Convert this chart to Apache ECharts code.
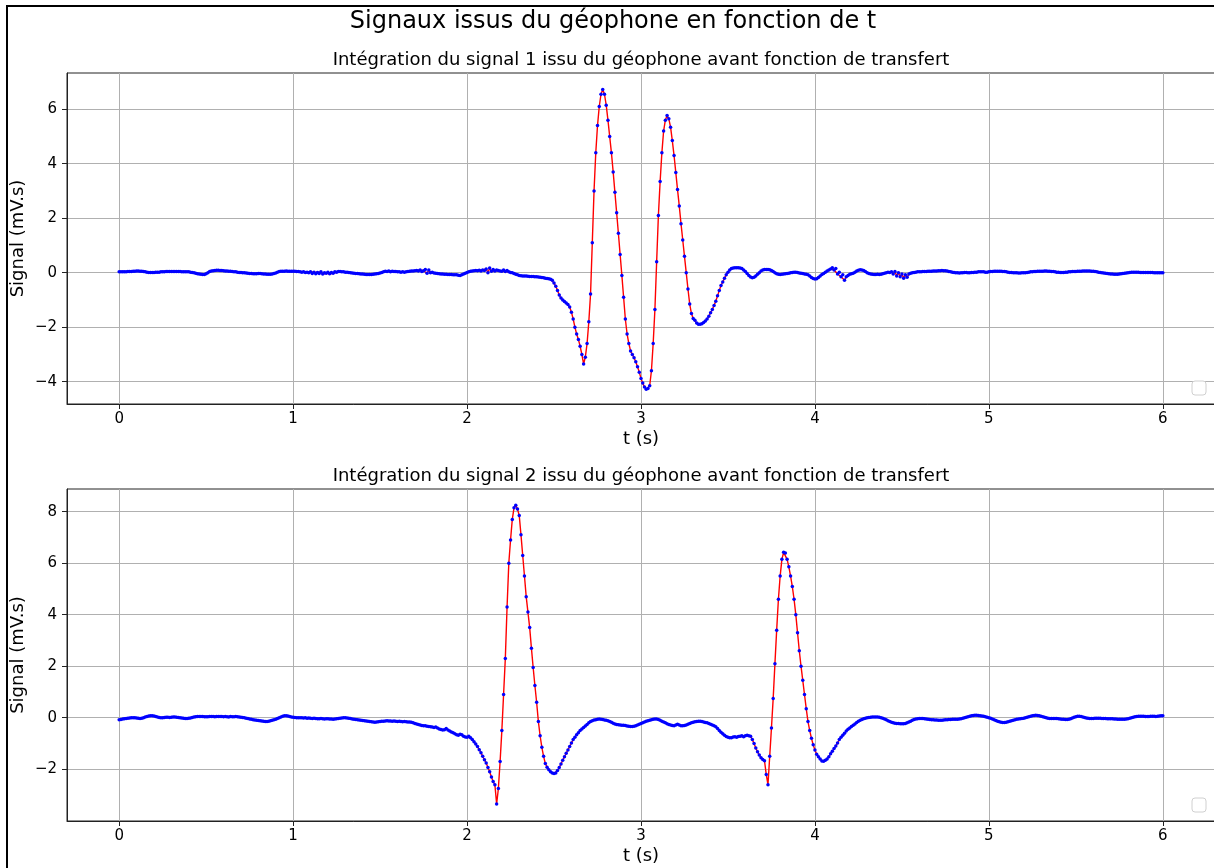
<!DOCTYPE html>
<html>
<head>
<meta charset="utf-8">
<script src="https://cdn.jsdelivr.net/npm/echarts@6/dist/echarts.min.js"></script>
<style>
html,body{margin:0;padding:0;background:#fff;}
#chart{width:1214px;height:868px;}
</style>
</head>
<body>
<div id="chart"></div>
<script>
const DT = 0.01;
const suptitle = 'Signaux issus du géophone en fonction de t';
const subtitle1 = 'Intégration du signal 1 issu du géophone avant fonction de transfert';
const subtitle2 = 'Intégration du signal 2 issu du géophone avant fonction de transfert';
const xName = 't (s)';
const yName = 'Signal (mV.s)';
const xTicks = [0, 1, 2, 3, 4, 5, 6];
const y1Ticks = [-4, -2, 0, 2, 4, 6];
const y2Ticks = [-2, 0, 2, 4, 6, 8];

const sig1 = [
0.03,0.03,0.03,0.03,0.03,0.04,0.04,0.04,0.05,0.05,
0.06,0.06,0.05,0.05,0.04,0.03,0.02,0.01,0.01,0.01,
0.01,0.02,0.02,0.02,0.03,0.03,0.03,0.04,0.04,0.04,
0.04,0.04,0.04,0.04,0.04,0.04,0.03,0.03,0.03,0.03,
0.03,0.02,0.01,0,-0.02,-0.04,-0.05,-0.06,-0.07,-0.07,
-0.04,0,0.04,0.06,0.07,0.08,0.09,0.09,0.08,0.08,
0.07,0.06,0.06,0.05,0.05,0.04,0.03,0.03,0.02,0.01,
0.01,0,0,-0.01,-0.02,-0.03,-0.03,-0.04,-0.04,-0.04,
-0.03,-0.03,-0.04,-0.05,-0.05,-0.06,-0.06,-0.06,-0.05,-0.03,
-0.01,0.02,0.04,0.05,0.05,0.05,0.06,0.05,0.05,0.05,
0.05,0.05,0.04,0.04,0.03,0.02,0.03,0.01,0.02,0,
0.03,-0.03,0.02,-0.04,0.01,-0.03,0.03,-0.05,0,-0.02,
0.02,-0.04,0.01,-0.02,0.03,0.02,0.04,0.04,0.03,0.03,
0.02,0.02,0.01,0,-0.01,-0.02,-0.03,-0.03,-0.04,-0.05,
-0.05,-0.06,-0.07,-0.07,-0.07,-0.07,-0.06,-0.05,-0.04,-0.03,
-0.01,0.01,0.03,0.05,0.04,0.06,0.03,0.05,0.04,0.04,
0.03,0.03,0.02,0.03,0.02,0.03,0.04,0.05,0.06,0.06,
0.07,0.08,0.06,0.1,0.04,0.07,0.12,-0.02,0.1,0,
0.02,-0.01,-0.02,-0.03,-0.04,-0.05,-0.05,-0.06,-0.06,-0.07,
-0.07,-0.07,-0.08,-0.08,-0.08,-0.09,-0.1,-0.08,-0.05,-0.02,
0.01,0.03,0.05,0.06,0.07,0.08,0.07,0.09,0.06,0.1,
0.08,0.14,0,0.17,0.05,0.12,0.06,0.1,0.08,0.06,
0.05,0.1,0.04,0.08,0.03,0.01,0,-0.03,-0.06,-0.08,
-0.1,-0.11,-0.12,-0.12,-0.12,-0.13,-0.14,-0.14,-0.14,-0.15,
-0.15,-0.16,-0.17,-0.18,-0.19,-0.2,-0.21,-0.22,-0.24,-0.28,
-0.38,-0.5,-0.65,-0.82,-0.93,-1.0,-1.06,-1.11,-1.17,-1.26,
-1.45,-1.7,-2.0,-2.25,-2.45,-2.7,-3.0,-3.35,-3.1,-2.6,
-1.8,-0.78,1.1,3.0,4.4,5.4,6.1,6.55,6.72,6.55,
6.15,5.6,5.0,4.4,3.7,2.95,2.2,1.45,0.67,-0.1,
-0.9,-1.7,-2.25,-2.6,-2.87,-3.0,-3.12,-3.27,-3.45,-3.65,
-3.88,-4.05,-4.2,-4.28,-4.25,-4.15,-3.6,-2.6,-1.35,0.4,
2.1,3.35,4.4,5.2,5.6,5.77,5.65,5.34,4.85,4.3,
3.68,3.05,2.45,1.8,1.2,0.6,0,-0.6,-1.15,-1.5,
-1.68,-1.75,-1.85,-1.89,-1.89,-1.87,-1.83,-1.77,-1.7,-1.6,
-1.47,-1.35,-1.2,-1.05,-0.85,-0.65,-0.47,-0.34,-0.2,-0.08,
0.02,0.1,0.15,0.17,0.18,0.18,0.18,0.17,0.15,0.1,
0.04,-0.03,-0.1,-0.16,-0.19,-0.17,-0.12,-0.06,0,0.06,
0.1,0.12,0.12,0.12,0.11,0.08,0.04,0,-0.04,-0.06,
-0.07,-0.06,-0.05,-0.04,-0.03,-0.02,0,0.01,0.02,0.02,
0.01,-0.01,-0.02,-0.03,-0.05,-0.06,-0.08,-0.12,-0.18,-0.21,
-0.23,-0.22,-0.18,-0.12,-0.07,-0.03,0.02,0.06,0.1,0.14,
0.18,0.1,0.15,-0.05,0.02,-0.15,-0.08,-0.28,-0.15,-0.1,
-0.06,-0.04,-0.02,0.02,0.06,0.09,0.11,0.1,0.08,0.04,
0,-0.03,-0.05,-0.06,-0.07,-0.07,-0.06,-0.07,-0.06,-0.04,
-0.02,0,0.02,0.01,0.03,-0.05,0.04,-0.12,0,-0.15,
-0.05,-0.2,-0.08,-0.17,-0.05,-0.02,0,0.01,0.02,0.03,
0.03,0.03,0.04,0.04,0.04,0.05,0.05,0.05,0.06,0.06,
0.06,0.07,0.07,0.08,0.07,0.07,0.06,0.04,0.03,0.02,
0.01,0,0,-0.01,0,0,0.01,0.01,0,0,
0.01,0.01,0.02,0.02,0.03,0.03,0.03,0.03,0.02,0.02,
0.03,0.04,0.04,0.05,0.05,0.05,0.05,0.05,0.04,0.04,
0.03,0.02,0.01,0.01,0,0,0,-0.01,-0.01,0,
0,0,0.01,0.02,0.03,0.03,0.04,0.04,0.05,0.05,
0.05,0.05,0.06,0.06,0.05,0.05,0.04,0.04,0.03,0.02,
0.02,0.01,0.01,0.01,0.02,0.02,0.03,0.03,0.04,0.04,
0.04,0.05,0.05,0.05,0.06,0.06,0.06,0.06,0.06,0.05,
0.05,0.04,0.03,0.02,0.01,0,-0.01,-0.02,-0.03,-0.04,
-0.05,-0.05,-0.06,-0.06,-0.06,-0.05,-0.04,-0.03,-0.02,-0.01,
0,0.01,0.02,0.02,0.02,0.02,0.02,0.01,0.01,0.01,
0.01,0.01,0.01,0.01,0.01,0,0,0,0,0,
0
];

const sig2 = [
-0.08,-0.07,-0.05,-0.04,-0.03,-0.02,-0.01,0,0,0,
-0.01,-0.02,-0.03,-0.02,0,0.03,0.05,0.07,0.08,0.08,
0.07,0.05,0.03,0.01,0,0,0.01,0.02,0.02,0.01,
0.02,0.03,0.03,0.02,0.01,0,-0.01,-0.02,-0.03,-0.03,
-0.02,-0.01,0.01,0.03,0.04,0.05,0.05,0.05,0.05,0.04,
0.04,0.04,0.05,0.05,0.05,0.04,0.05,0.05,0.05,0.05,
0.04,0.05,0.04,0.03,0.05,0.04,0.04,0.05,0.04,0.03,
0.02,0.01,0,-0.02,-0.03,-0.05,-0.06,-0.08,-0.09,-0.1,
-0.11,-0.12,-0.13,-0.14,-0.15,-0.15,-0.14,-0.12,-0.1,-0.08,
-0.06,-0.03,0,0.03,0.06,0.08,0.08,0.07,0.05,0.03,
0.02,0.01,0,0,0,0,-0.01,0,-0.02,-0.01,
-0.02,-0.03,-0.02,-0.03,-0.04,-0.04,-0.03,-0.04,-0.05,-0.04,
-0.04,-0.05,-0.05,-0.06,-0.05,-0.04,-0.03,-0.02,-0.01,0,
0,-0.01,-0.02,-0.03,-0.05,-0.06,-0.07,-0.08,-0.09,-0.1,
-0.11,-0.12,-0.13,-0.14,-0.15,-0.16,-0.17,-0.18,-0.17,-0.16,
-0.15,-0.14,-0.14,-0.13,-0.12,-0.13,-0.13,-0.14,-0.13,-0.14,
-0.15,-0.14,-0.15,-0.16,-0.15,-0.16,-0.17,-0.17,-0.18,-0.2,
-0.22,-0.24,-0.26,-0.28,-0.3,-0.31,-0.31,-0.33,-0.34,-0.35,
-0.36,-0.38,-0.36,-0.4,-0.44,-0.46,-0.48,-0.47,-0.42,-0.48,
-0.52,-0.55,-0.58,-0.62,-0.66,-0.68,-0.64,-0.66,-0.72,-0.75,
-0.76,-0.72,-0.78,-0.85,-0.93,-1.02,-1.12,-1.24,-1.36,-1.5,
-1.63,-1.76,-1.93,-2.1,-2.3,-2.48,-2.6,-3.35,-2.75,-1.7,
-0.5,0.9,2.3,4.3,6.0,6.9,7.7,8.15,8.25,8.1,
7.85,7.1,6.3,5.5,4.7,4.1,3.5,2.7,1.95,1.25,
0.6,-0.15,-0.7,-1.15,-1.5,-1.78,-1.92,-2.02,-2.1,-2.15,
-2.17,-2.15,-2.05,-1.93,-1.8,-1.65,-1.52,-1.38,-1.25,-1.12,
-0.98,-0.85,-0.76,-0.66,-0.58,-0.5,-0.44,-0.38,-0.32,-0.26,
-0.2,-0.15,-0.12,-0.09,-0.08,-0.06,-0.05,-0.06,-0.07,-0.09,
-0.1,-0.12,-0.15,-0.18,-0.21,-0.24,-0.26,-0.27,-0.28,-0.29,
-0.29,-0.3,-0.32,-0.33,-0.34,-0.34,-0.33,-0.31,-0.28,-0.25,
-0.22,-0.2,-0.17,-0.14,-0.12,-0.1,-0.08,-0.06,-0.05,-0.05,
-0.07,-0.1,-0.14,-0.17,-0.2,-0.23,-0.26,-0.28,-0.3,-0.31,
-0.28,-0.25,-0.28,-0.31,-0.31,-0.3,-0.28,-0.25,-0.22,-0.2,
-0.18,-0.16,-0.15,-0.14,-0.14,-0.15,-0.17,-0.19,-0.2,-0.22,
-0.25,-0.28,-0.31,-0.35,-0.42,-0.5,-0.56,-0.62,-0.68,-0.73,
-0.76,-0.78,-0.78,-0.75,-0.74,-0.76,-0.73,-0.72,-0.7,-0.74,
-0.7,-0.68,-0.7,-0.72,-0.85,-1.0,-1.18,-1.32,-1.45,-1.55,
-1.62,-1.67,-2.2,-2.6,-1.5,-0.4,0.75,2.1,3.4,4.6,
5.5,6.15,6.42,6.4,6.15,5.86,5.5,5.09,4.6,4.0,
3.3,2.6,2.0,1.45,0.9,0.35,-0.15,-0.5,-0.8,-1.05,
-1.25,-1.42,-1.52,-1.6,-1.68,-1.69,-1.65,-1.6,-1.52,-1.4,
-1.3,-1.2,-1.1,-0.98,-0.85,-0.76,-0.68,-0.6,-0.52,-0.45,
-0.4,-0.34,-0.29,-0.24,-0.19,-0.14,-0.1,-0.07,-0.04,-0.02,
0,0.01,0.02,0.03,0.03,0.03,0.03,0.02,0,-0.02,
-0.05,-0.08,-0.12,-0.15,-0.18,-0.2,-0.21,-0.22,-0.22,-0.23,
-0.23,-0.23,-0.22,-0.2,-0.17,-0.14,-0.1,-0.07,-0.05,-0.04,
-0.03,-0.03,-0.03,-0.04,-0.05,-0.06,-0.07,-0.08,-0.08,-0.09,
-0.09,-0.1,-0.1,-0.1,-0.09,-0.08,-0.08,-0.07,-0.07,-0.06,
-0.06,-0.06,-0.06,-0.05,-0.04,-0.02,0,0.02,0.04,0.06,
0.08,0.09,0.1,0.1,0.09,0.08,0.07,0.06,0.04,0.02,
0,-0.02,-0.05,-0.08,-0.11,-0.14,-0.16,-0.18,-0.19,-0.19,
-0.18,-0.16,-0.14,-0.12,-0.1,-0.08,-0.06,-0.05,-0.04,-0.03,
-0.02,0,0.02,0.04,0.06,0.08,0.09,0.1,0.09,0.08,
0.06,0.04,0.02,0,-0.02,-0.03,-0.03,-0.03,-0.03,-0.03,
-0.04,-0.05,-0.06,-0.06,-0.07,-0.07,-0.06,-0.04,-0.01,0.02,
0.04,0.06,0.06,0.05,0.03,0.01,-0.01,-0.02,-0.03,-0.03,
-0.03,-0.02,-0.02,-0.02,-0.02,-0.03,-0.03,-0.03,-0.04,-0.04,
-0.04,-0.04,-0.05,-0.05,-0.06,-0.06,-0.06,-0.06,-0.06,-0.05,
-0.04,-0.02,0,0.02,0.04,0.05,0.06,0.06,0.06,0.06,
0.05,0.05,0.05,0.06,0.06,0.06,0.05,0.06,0.07,0.08,
0.08
];

// ---- chart ----
const FONT = 'DejaVu Sans';
const toPairs = arr => arr.map((v, i) => [Math.round(i * DT * 100) / 100, v]);
const minus = v => String(v).replace('-', '\u2212');

const GRID_LEFT = 67, GRID_W = 1148;
const grids = [
  { left: GRID_LEFT, top: 73, width: GRID_W, height: 331 },
  { left: GRID_LEFT, top: 489, width: GRID_W, height: 332 }
];

function xAxisFor(gi) {
  return {
    type: 'value', gridIndex: gi, min: -0.3, max: 6.3,
    name: xName, nameLocation: 'middle', nameGap: 26, nameMoveOverlap: false,
    nameTextStyle: { fontFamily: FONT, fontSize: 18, color: '#000' },
    axisLine: { onZero: false, lineStyle: { color: '#222', width: 1 } },
    axisTick: { show: true, length: 5, customValues: xTicks, lineStyle: { color: '#222' } },
    axisLabel: { customValues: xTicks, margin: 8, fontFamily: FONT, fontSize: 15, color: '#000' },
    splitLine: { show: true, lineStyle: { color: '#b0b0b0', width: 1 } }
  };
}
function yAxisFor(gi, lo, hi, ticks) {
  return {
    type: 'value', gridIndex: gi, min: lo, max: hi,
    name: yName, nameLocation: 'middle', nameGap: 40, nameRotate: 90, nameMoveOverlap: false,
    nameTextStyle: { fontFamily: FONT, fontSize: 18, color: '#000' },
    axisLine: { show: true, onZero: false, lineStyle: { color: '#222', width: 1 } },
    axisTick: { show: true, length: 5, customValues: ticks, lineStyle: { color: '#222' } },
    axisLabel: { customValues: ticks, margin: 10, fontFamily: FONT, fontSize: 15, color: '#000', formatter: minus },
    splitLine: { show: true, lineStyle: { color: '#b0b0b0', width: 1 } }
  };
}
function seriesFor(gi, arr) {
  return {
    type: 'line', xAxisIndex: gi, yAxisIndex: gi, data: toPairs(arr),
    symbol: 'circle', symbolSize: 3.5, showSymbol: true, showAllSymbol: true,
    lineStyle: { color: '#ff0000', width: 1.4 },
    itemStyle: { color: '#0000ff', borderWidth: 0 },
    emphasis: { disabled: true }, animation: false, z: 3
  };
}

const chart = echarts.init(document.getElementById('chart'), null, { renderer: 'canvas' });
chart.setOption({
  backgroundColor: '#fff',
  animation: false,
  textStyle: { fontFamily: FONT },
  grid: grids.map(g => Object.assign({ show: true, borderColor: '#222', borderWidth: 1, backgroundColor: 'transparent', containLabel: false, outerBoundsMode: 'none' }, g)),
  xAxis: [xAxisFor(0), xAxisFor(1)],
  yAxis: [yAxisFor(0, -4.82, 7.33, y1Ticks), yAxisFor(1, -4.01, 8.88, y2Ticks)],
  series: [seriesFor(0, sig1), seriesFor(1, sig2)],
  graphic: [
    { type: 'rect', shape: { x: 7, y: 6, width: 1400, height: 1000 }, style: { fill: 'none', stroke: '#000', lineWidth: 2 }, silent: true, z: 100 },
    { type: 'text', x: 613, y: 22, style: { text: suptitle, font: '24px "DejaVu Sans"', fill: '#000', align: 'center', verticalAlign: 'middle' } },
    { type: 'text', x: 641, y: 60, style: { text: subtitle1, font: '18px "DejaVu Sans"', fill: '#000', align: 'center', verticalAlign: 'middle' } },
    { type: 'text', x: 641, y: 476, style: { text: subtitle2, font: '18px "DejaVu Sans"', fill: '#000', align: 'center', verticalAlign: 'middle' } },
    { type: 'rect', shape: { x: 1192, y: 381, width: 14, height: 14, r: 3 }, style: { fill: '#fff', stroke: '#d0d0d0', lineWidth: 1 }, z: 50 },
    { type: 'rect', shape: { x: 1192, y: 798, width: 14, height: 14, r: 3 }, style: { fill: '#fff', stroke: '#d0d0d0', lineWidth: 1 }, z: 50 }
  ]
});
</script>
</body>
</html>
